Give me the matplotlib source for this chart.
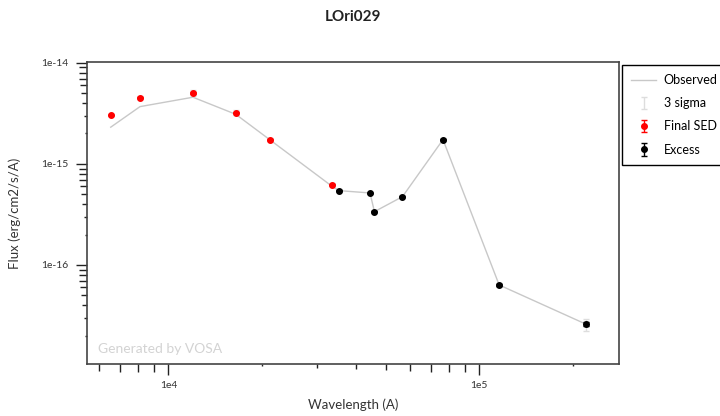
import numpy as np
import matplotlib
matplotlib.use('Agg')
import matplotlib.pyplot as plt
from matplotlib.ticker import FixedLocator, LogLocator, FuncFormatter, NullFormatter

plt.rcParams['font.family'] = ['Lato', 'DejaVu Sans']

title = 'LOri029'

# final SED points (red)
sedWave = [6530, 8110, 12000, 16470, 21280, 33500]
sedFlux = [3.05e-15, 4.53e-15, 5.05e-15, 3.22e-15, 1.74e-15, 6.24e-16]
sedErr = [0.01, 0.01, 0.025, 0.02, 0.01, 0.01]   # relative 1 sigma

# excess points (black)
excessWave = [35400, 44500, 46000, 56600, 76400, 115800, 220500]
excessFlux = [5.44e-16, 5.16e-16, 3.37e-16, 4.74e-16, 1.74e-15, 6.34e-17, 2.59e-17]
excessErr = [0.01, 0.01, 0.01, 0.01, 0.01, 0.015, 0.045]

# observed (not dereddened) flux
obsWave = sedWave + excessWave
obsFlux = [2.31e-15, 3.69e-15, 4.57e-15, 3.10e-15, 1.72e-15, 6.05e-16] + excessFlux

xTicks = [1e4, 1e5]
yTicks = [1e-16, 1e-15, 1e-14]

sedWave = np.array(sedWave)
sedFlux = np.array(sedFlux)
excessWave = np.array(excessWave)
excessFlux = np.array(excessFlux)
sedSig = sedFlux * np.array(sedErr)
excessSig = excessFlux * np.array(excessErr)

fig = plt.figure(figsize=(7.2, 4.16), dpi=100)
ax = fig.add_axes([87.3/720, 1-364/416, 532/720, 302/416])

ax.plot(obsWave, obsFlux, color='#c8c8c8', lw=1.0, label='Observed', zorder=1)
ax.errorbar(sedWave, sedFlux, yerr=3*sedSig, fmt='none', ecolor='#dddddd',
            elinewidth=1, capsize=2.5, label='3 sigma', zorder=2)
ax.errorbar(excessWave, excessFlux, yerr=3*excessSig, fmt='none', ecolor='#dddddd',
            elinewidth=1, capsize=2.5, zorder=2)
ax.errorbar(sedWave, sedFlux, yerr=sedSig, fmt='o', color='red', ms=4.0,
            elinewidth=1, capsize=2.2, label='Final SED', zorder=3)
ax.errorbar(excessWave, excessFlux, yerr=excessSig, fmt='o', color='black', ms=4.0,
            elinewidth=1, capsize=2.2, label='Excess', zorder=3)

ax.set_xscale('log')
ax.set_yscale('log')
ax.set_xlim(5490, 281800)
ax.set_ylim(1.047e-17, 1.02e-14)

def expfmt(x, pos):
    return '1e%d' % int(round(np.log10(x)))

ax.xaxis.set_major_locator(FixedLocator(xTicks))
ax.yaxis.set_major_locator(FixedLocator(yTicks))
for axis in (ax.xaxis, ax.yaxis):
    axis.set_minor_locator(LogLocator(base=10, subs=np.arange(2, 10), numticks=50))
    axis.set_major_formatter(FuncFormatter(expfmt))
    axis.set_minor_formatter(NullFormatter())

ax.tick_params(which='major', direction='out', length=8, width=1, color='#222222',
               labelsize=7.5, labelcolor='#333333')
ax.tick_params(axis='x', which='major', pad=4.0)
ax.tick_params(axis='y', which='major', pad=5.5)
ax.tick_params(which='minor', direction='out', length=5.8, width=1, color='#222222')

for sp in ax.spines.values():
    sp.set_color('#444444')
    sp.set_linewidth(1.2)

ax.set_xlabel('Wavelength (A)', fontsize=9.5, color='#333333')
ax.set_ylabel('Flux (erg/cm2/s/A)', fontsize=9.5, color='#333333')
ax.xaxis.label.set_va('center')
ax.yaxis.label.set_va('center')
ax.xaxis.set_label_coords(0.5, -0.136)
ax.yaxis.set_label_coords(-0.136, 0.5)

ax.text(0.021, 0.05, 'Generated by VOSA', transform=ax.transAxes, color='#d3d3d3',
        fontsize=10, va='center', ha='left')

fig.text((87.3 + 532/2)/720, 1-17/416, title, ha='center', va='center',
         fontsize=11, fontweight='bold', color='#222222')

leg = ax.legend(loc='upper left', bbox_to_anchor=(1.0, 1.0), borderaxespad=0.2,
                fontsize=9, fancybox=False, edgecolor='black', framealpha=1,
                handlelength=2.0, handletextpad=0.6, labelspacing=0.9, borderpad=0.75)
leg.get_frame().set_linewidth(1.0)

# shorter minor ticks for 2..5 like the original
minorLen = {2: 2.5, 3: 3.5, 4: 4.7, 5: 6, 6: 7, 7: 8, 8: 8, 9: 8}
fig.canvas.draw()
for axis in (ax.xaxis, ax.yaxis):
    for tick in axis.get_minor_ticks():
        loc = tick.get_loc()
        if loc <= 0:
            continue
        m = int(round(loc / 10**np.floor(np.log10(loc) + 1e-9)))
        tick.tick1line.set_markersize(minorLen.get(m, 8) * 0.72)

fig.savefig('out.png', dpi=100)
